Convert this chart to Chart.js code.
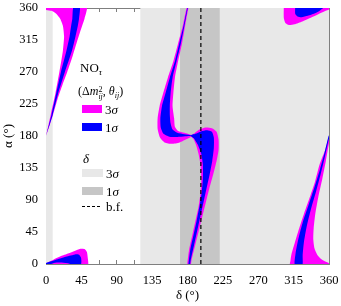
<!DOCTYPE html>
<html>
<head>
<meta charset="utf-8">
<script src="https://cdn.jsdelivr.net/npm/chart.js@4.4.0/dist/chart.umd.min.js"></script>
<style>
html, body { margin: 0; padding: 0; background: #fff; }
#wrap { position: relative; width: 341px; height: 306px; }
.lg { position: absolute; font-family: "Liberation Serif", serif; color: #000; white-space: nowrap; line-height: 1; }
.sw { position: absolute; width: 20px; height: 8px; }
.sub { font-size: 9px; position: relative; top: 3px; font-style: italic; }
</style>
</head>
<body>
<div id="wrap">
  <canvas id="chart" width="341" height="306"></canvas>
  <!-- leyenda -->
  <div class="lg" style="left:80px;top:61px;font-size:13px;">NO<span class="sub">τ</span></div>
  <div class="lg" style="left:78px;top:85px;font-size:12px;">(Δ<i>m</i><span style="display:inline-block;vertical-align:-4px;line-height:7px;font-size:8px;"><span style="display:block">2</span><span style="display:block;font-style:italic">ij</span></span>, <i>θ</i><span class="sub" style="font-size:8px">ij</span>)</div>
  <div class="sw" style="left:82px;top:105px;background:#ff00ff;"></div>
  <div class="lg" style="left:105px;top:103px;font-size:13px;">3<i>σ</i></div>
  <div class="sw" style="left:82px;top:123px;background:#0000ff;"></div>
  <div class="lg" style="left:105px;top:121px;font-size:13px;">1<i>σ</i></div>
  <div class="lg" style="left:83px;top:152px;font-size:13px;"><i>δ</i></div>
  <div class="sw" style="left:82px;top:169px;width:21px;background:#e8e8e8;"></div>
  <div class="lg" style="left:106px;top:167px;font-size:13px;">3<i>σ</i></div>
  <div class="sw" style="left:82px;top:187px;width:21px;background:#c6c6c6;"></div>
  <div class="lg" style="left:106px;top:185px;font-size:13px;">1<i>σ</i></div>
  <div class="sw" style="left:82px;top:206px;height:1px;background:repeating-linear-gradient(to right,#000 0 3px,transparent 3px 5px);"></div>
  <div class="lg" style="left:106px;top:200px;font-size:13px;">b.f.</div>
</div>
<script>
// Rango de delta (grados)
const deltaTicks = [0, 45, 90, 135, 180, 225, 270, 315, 360];
const alphaTicks = [0, 45, 90, 135, 180, 225, 270, 315, 360];
const delta3Sigma = [[0, 8.5], [120, 360]];
const delta1Sigma = [170.5, 221];
const deltaBestFit = 197;

// Contornos [delta, alpha]
const wedgeTL3 = [[0,180],[9,210],[15,233],[21,252],[27,270],[34,293],[41.5,320],[46,335],[49,345],[51.5,362],[-2,362],[-2,358],[7,356],[13,352],[18,345],[21.5,335],[23,320],[21.5,300],[17,270],[12,240],[6,210],[0,180]];
const wedgeTL1 = [[0,180],[7,210],[13,240],[19,270],[26,300],[30,320],[32,335],[33.5,345],[35,362],[43,362],[42,345],[40.5,335],[37.5,320],[33,300],[24,270],[15.5,240],[8.5,210],[0,180]];
const blobBL3 = [[-2,-2],[-2,0],[10,6.5],[20,11.5],[30,15.5],[38,19],[44,21.5],[49,21],[52,17],[53,10],[53,-2]];
const blobBL1 = [[-2,-2],[-2,0.5],[10,5],[20,8.5],[30,11.5],[37,13.5],[42,13],[44.5,9],[45,3],[44,-2],[35,-2],[30,0.5],[20,2],[10,1.5],[2,-2]];
const branchUp3 = [[181.5,362],[179.3,362],[174,335],[168,310],[162,285],[155,262],[149,240],[144.5,222],[142,205],[142,190],[145,178],[151,171],[160,169],[170,171],[180,176],[186,179.5],[186,181],[176,184.5],[168,187],[164,193],[163,205],[161,222],[162,240],[164,262],[168,285],[173,310],[177,335]];
const branchUp1 = [[180.7,362],[180,362],[175,335],[169.5,310],[164,285],[157.5,262],[152,240],[147.5,222],[145.5,205],[146,192],[149.5,183],[157,179],[167,178.5],[177,179.5],[186,180.3],[186,180.8],[176,182.5],[167,184.5],[161,189],[158.5,198],[157.5,210],[157.5,222],[158.5,240],[161,262],[166,285],[171.5,310],[176,335]];
const lobe3 = [[179.5,-2],[182,20],[186,40],[190,60],[194,80],[196.5,100],[197.5,120],[196.5,140],[194,155],[191,167],[187.5,176],[184,180.5],[189,184],[195,189],[203,192],[211,191],[217,186],[219.5,175],[219.5,160],[217,145],[212.5,125],[207.5,105],[203,85],[198.5,65],[194,45],[189.5,25],[185,5],[184,-2]];
const lobe1 = [[181,-2],[183.5,20],[187.5,40],[191.5,60],[195,80],[198,100],[199.5,120],[199.5,140],[197.5,155],[193,168],[188,177],[184,180.5],[190,183],[197,186.5],[205,188],[211,186],[213.5,178],[213.5,163],[211.5,145],[208,125],[204,105],[200,85],[196,65],[192,45],[188,25],[184,5],[183,-2]];
const blobTR3 = [[302.5,362],[302.5,346],[304.5,339],[309,336],[316,337],[326,341],[336,346],[346,351],[356,356],[362,359],[362,362]];
const blobTR1 = [[317,362],[317,352],[320,348],[325,347],[333,349],[343,353],[349,357],[354,362]];
const tailBR3 = [[362,184],[360,180],[355,160],[348,140],[342,115],[335,92],[328,70],[322,50],[316.5,30],[312.5,15],[311,5],[310.5,-2],[362,-2],[362,0],[356,3],[350,7],[345,13],[341.5,22],[340,35],[340.5,50],[342.5,70],[346.5,95],[351.5,120],[356,145],[360,170],[362,178]];
const tailBR1 = [[362,184],[359.5,180],[354.5,157],[348.5,133],[341.5,108],[334,83],[327,60],[321,35],[317.5,15],[316.5,-2],[326,-2],[326.5,12],[328,30],[331.5,52],[337,77],[343.5,102],[349.5,127],[355,152],[360,176],[362,180]];

const MAGENTA = '#ff00ff';
const BLUE = '#0000ff';
const LIGHT = '#e8e8e8';
const DARK = '#c6c6c6';

function area(pts, color, order, tension) {
    const data = pts.map(p => ({x: p[0], y: p[1]}));
    data.push({x: pts[0][0], y: pts[0][1]});
    return {
        data: data,
        showLine: true,
        fill: 'shape',
        backgroundColor: color,
        borderColor: 'rgba(0,0,0,0)',
        borderWidth: 0,
        pointRadius: 0,
        tension: tension === undefined ? 0.2 : tension,
        order: order
    };
}

function band(range, color, order) {
    return area([[range[0], -2], [range[1], -2], [range[1], 362], [range[0], 362]], color, order, 0);
}

const datasets = [];
delta3Sigma.forEach(r => datasets.push(band(r, LIGHT, 20)));
datasets.push(band(delta1Sigma, DARK, 19));
[wedgeTL3, blobBL3, branchUp3, lobe3, blobTR3, tailBR3].forEach(s => datasets.push(area(s, MAGENTA, 10)));
[wedgeTL1, blobBL1, branchUp1, lobe1, blobTR1, tailBR1].forEach(s => datasets.push(area(s, BLUE, 9)));
datasets.push({
    data: [{x: deltaBestFit, y: 0}, {x: deltaBestFit, y: 360}],
    showLine: true,
    borderColor: '#000',
    borderWidth: 1.2,
    borderDash: [4, 3],
    pointRadius: 0,
    fill: false,
    order: 1
});

const FRAME = '#7f7f7f';
const tickFont = {family: 'Liberation Serif', size: 12.5};

// ancho/alto fijo de cada eje para que el area del grafico no se mueva
function fixBox(w, h) {
    return s => {
        if (w !== null) s.width = w;
        if (h !== null) s.height = h;
        s.paddingLeft = 0; s.paddingRight = 0; s.paddingTop = 0; s.paddingBottom = 0;
    };
}

function axis(position, extra) {
    const isX = position === 'top' || position === 'bottom';
    const ticks = isX ? deltaTicks : alphaTicks;
    return Object.assign({
        type: 'linear',
        position: position,
        min: ticks[0],
        max: ticks[ticks.length - 1],
        grid: {drawOnChartArea: false, drawTicks: true, tickLength: -4, tickColor: FRAME, tickWidth: 1},
        border: {color: FRAME, width: 1},
        ticks: {stepSize: 22.5, autoSkip: false, maxRotation: 0, font: tickFont, color: '#000', padding: isX ? 13 : 12,
                callback: v => (v % 45 === 0 ? v : '')}
    }, extra);
}

new Chart(document.getElementById('chart'), {
    type: 'scatter',
    data: {datasets: datasets},
    options: {
        responsive: false,
        animation: false,
        events: [],
        layout: {padding: 0},
        plugins: {legend: {display: false}, tooltip: {enabled: false}},
        scales: {
            x: axis('bottom', {
                title: {display: true, text: 'δ (°)', font: {family: 'Liberation Serif', size: 13}, color: '#000', padding: {top: 0, bottom: 3}},
                afterFit: fixBox(null, 42)
            }),
            y: axis('left', {
                title: {display: true, text: 'α (°)', font: {family: 'Liberation Serif', size: 13}, color: '#000', padding: {top: 1, bottom: 0}},
                afterFit: fixBox(46, null)
            }),
            x2: axis('top', {afterFit: fixBox(null, 8)}),
            y2: axis('right', {afterFit: fixBox(12, null)})
        }
    }
});
// las escalas x2/y2 solo dibujan marcas
const ch = Chart.getChart('chart');
ch.options.scales.x2.ticks.color = 'rgba(0,0,0,0)';
ch.options.scales.y2.ticks.color = 'rgba(0,0,0,0)';
ch.update();
</script>
</body>
</html>
